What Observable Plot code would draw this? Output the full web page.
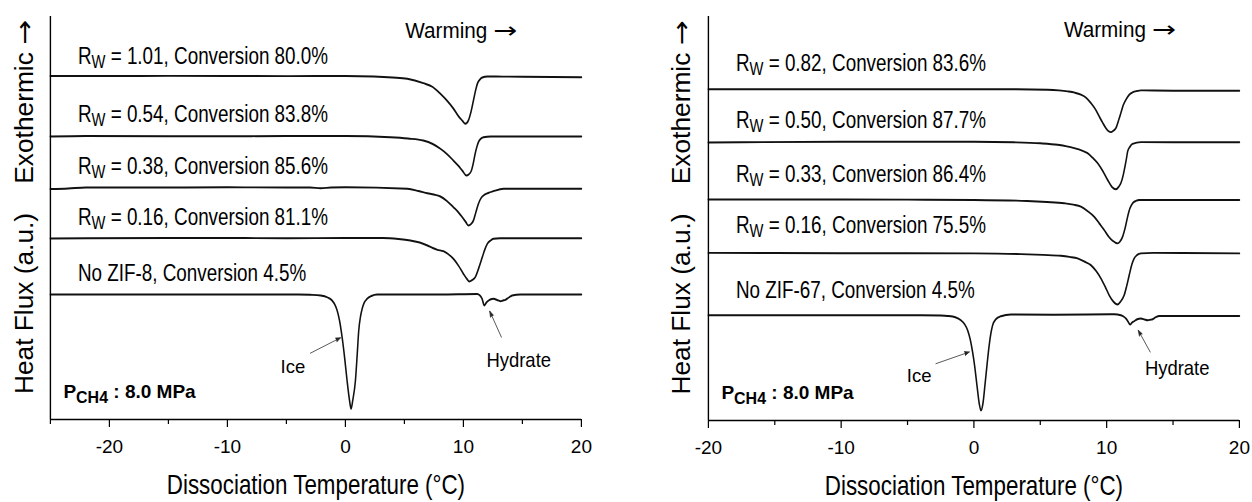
<!DOCTYPE html>
<html>
<head>
<meta charset="utf-8">
<script src="https://cdn.jsdelivr.net/npm/d3@7"></script>
<script src="https://cdn.jsdelivr.net/npm/@observablehq/plot@0.6"></script>
<style>
  body { margin: 0; background: #fff; }
  #fig { display: flex; width: 1252px; height: 502px; overflow: hidden; }
</style>
</head>
<body>
<div id="fig"></div>
<script>
// ---- DSC warming traces (heat flux, a.u.), one stacked trace per sample ----

// ZIF-8 series
const zif8Ratio = [1.01, 0.54, 0.38, 0.16, null];
const zif8Conversion = [80.0, 83.8, 85.6, 81.1, 4.5];
const zif8Offset = [34.3, 28.3, 23.2, 18.15, 12.5];
const zif8LabelY = [35.6, 29.73, 24.57, 19.5, 13.9];
const zif8Traces = [
  [[-25,0.05],[-20,0.05],[-15,0.06],[-10,0.05],[-5,0.04],[0,0.05],[2.4,0],[4,-0.1],[5.25,-0.23],[6.6,-0.67],[7.4,-1.05],[8.05,-1.73],[8.6,-2.4],[9.15,-3.2],[9.6,-4.0],[9.9,-4.4],[10.17,-4.73],[10.42,-4.4],[10.65,-3.5],[10.85,-2.4],[11.05,-1.3],[11.19,-0.7],[11.4,-0.3],[11.6,-0.1],[12.03,0],[15,-0.03],[20,-0.07]],
  [[-25,0],[-22,0.05],[-15,0.03],[-10,0.02],[-5,0.05],[0,0.05],[3.8,-0.07],[5.3,-0.2],[6.6,-0.4],[7.4,-0.75],[8.05,-1.23],[8.6,-1.75],[9.15,-2.4],[9.55,-2.9],[9.9,-3.4],[10.25,-3.9],[10.45,-3.8],[10.68,-3.4],[10.85,-2.6],[11.0,-1.7],[11.15,-1.0],[11.27,-0.57],[11.45,-0.25],[11.7,-0.07],[12.3,0],[20,0]],
  [[-25,-0.15],[-23.5,-0.1],[-22,0],[-15,0],[-10,0.02],[-5,0],[-3,0],[-2.1,-0.08],[-1.2,0],[0,0.02],[5.25,-0.13],[6.2,-0.35],[6.95,-0.57],[7.5,-0.7],[8.05,-0.9],[8.6,-1.35],[9.15,-1.97],[9.55,-2.45],[9.9,-2.97],[10.2,-3.45],[10.42,-3.8],[10.65,-3.65],[10.85,-3.3],[11.05,-2.5],[11.27,-1.63],[11.5,-1.05],[11.7,-0.8],[12.1,-0.55],[12.54,-0.37],[13.4,-0.13],[15,-0.13],[20,-0.13]],
  [[-25,-0.05],[-15,0],[-10,0],[-5,-0.02],[0,0],[3.2,0],[4.5,-0.1],[5.5,-0.25],[6.3,-0.45],[6.95,-0.75],[7.4,-1.0],[7.8,-1.18],[8.3,-1.32],[8.7,-1.6],[9.15,-2.08],[9.6,-2.8],[10.0,-3.58],[10.3,-4.1],[10.5,-4.35],[10.75,-4.2],[11.0,-3.92],[11.3,-3.0],[11.6,-1.92],[11.8,-1.2],[12.03,-0.58],[12.3,-0.25],[12.54,-0.08],[13.1,-0.02],[20,-0.02]],
  [[-25,0],[-15,0],[-8,0],[-4,0],[-3,-0.03],[-2.1,-0.1],[-1.5,-0.3],[-1.13,-0.6],[-0.9,-1.0],[-0.7,-1.6],[-0.5,-2.6],[-0.28,-4.27],[-0.05,-6.5],[0.14,-8.6],[0.35,-10.6],[0.48,-11.43],[0.62,-10.6],[0.85,-8.6],[1.0,-6.0],[1.13,-3.6],[1.28,-2.2],[1.42,-1.43],[1.6,-0.8],[1.84,-0.43],[2.2,-0.15],[2.69,0],[5,0],[8,0],[11.16,0.05],[11.4,-0.1],[11.58,-0.43],[11.78,-1.1],[11.95,-0.8],[12.14,-0.6],[12.4,-0.45],[12.57,-0.43],[12.85,-0.55],[13.14,-0.67],[13.35,-0.6],[13.56,-0.53],[13.85,-0.3],[14.13,-0.1],[14.83,0],[20,0]]
];

// ZIF-67 series
const zif67Ratio = [0.82, 0.50, 0.33, 0.16, null];
const zif67Conversion = [83.6, 87.7, 86.4, 75.5, 4.5];
const zif67Offset = [33.05, 27.8, 22.05, 16.67, 10.5];
const zif67LabelY = [34.83, 29.17, 23.83, 18.67, 12.17];
const zif67Traces = [
  [[-20,0],[-10,0],[0,0],[3,0],[5.55,-0.05],[6.4,-0.12],[7.06,-0.22],[7.6,-0.35],[8.06,-0.55],[8.45,-0.85],[8.81,-1.38],[9.15,-2.0],[9.44,-2.72],[9.7,-3.35],[9.94,-3.88],[10.15,-4.2],[10.32,-4.28],[10.5,-4.15],[10.7,-3.88],[10.9,-3.1],[11.07,-2.38],[11.25,-1.6],[11.45,-1.05],[11.7,-0.55],[11.95,-0.32],[12.3,-0.18],[12.58,-0.12],[15,-0.15],[20,-0.15]],
  [[-20,-0.07],[-10,0],[0,0],[3,-0.05],[5,-0.15],[6.31,-0.3],[7.0,-0.45],[7.56,-0.63],[8.1,-0.85],[8.56,-1.13],[8.95,-1.6],[9.32,-2.13],[9.7,-2.9],[10.07,-3.8],[10.4,-4.5],[10.7,-4.73],[10.9,-4.5],[11.07,-4.13],[11.25,-3.3],[11.38,-2.47],[11.5,-1.6],[11.58,-0.97],[11.75,-0.5],[11.95,-0.2],[12.58,-0.03],[15,-0.05],[20,-0.05]],
  [[-20,0],[-10,0],[-5,-0.02],[0,-0.05],[4,-0.15],[5.5,-0.25],[6.8,-0.38],[7.5,-0.52],[8.06,-0.72],[8.6,-1.2],[9.06,-1.72],[9.45,-2.4],[9.82,-3.05],[10.15,-3.7],[10.45,-4.12],[10.82,-4.38],[11.0,-4.2],[11.2,-3.72],[11.4,-2.8],[11.58,-1.72],[11.75,-0.9],[11.95,-0.38],[12.2,-0.15],[12.45,-0.05],[15,-0.05],[20,-0.05]],
  [[-20,0.05],[-10,0.02],[0,0],[3.54,-0.07],[5.2,-0.15],[6.55,-0.24],[7.2,-0.35],[7.81,-0.5],[8.3,-0.8],[8.81,-1.17],[9.2,-1.75],[9.57,-2.5],[9.9,-3.35],[10.19,-4.17],[10.5,-4.8],[10.82,-5.1],[11.05,-4.8],[11.32,-4.17],[11.5,-3.3],[11.7,-2.17],[11.9,-1.1],[12.07,-0.5],[12.3,-0.15],[12.58,0],[13.5,0.05],[20,0]],
  [[-20,0],[-10,0],[-5,0],[-3.99,0],[-2.5,-0.03],[-1.98,-0.07],[-1.4,-0.2],[-0.98,-0.5],[-0.7,-0.9],[-0.47,-1.5],[-0.28,-2.4],[-0.1,-3.67],[0.05,-5.0],[0.23,-7.0],[0.4,-8.8],[0.53,-9.5],[0.68,-8.8],[0.83,-7.0],[1.0,-4.8],[1.15,-3.0],[1.28,-1.8],[1.41,-1.0],[1.65,-0.4],[2.03,-0.1],[2.79,0.07],[6,0.05],[10.57,0.1],[11.07,0],[11.3,-0.15],[11.45,-0.33],[11.6,-0.6],[11.77,-0.93],[11.9,-0.75],[12.07,-0.6],[12.3,-0.4],[12.58,-0.33],[12.85,-0.42],[13.08,-0.5],[13.3,-0.45],[13.46,-0.4],[13.7,-0.2],[13.96,-0.07],[15,-0.07],[20,-0.07]]
];

const majorTicks = [-20, -10, 0, 10, 20];
const zif8MinorTicks = [-25, -15, -5, 5, 15];
const zif67MinorTicks = [-15, -5, 5, 15];

// ---- drawing ----
const H = 502;
const K = 0.82;           // the figure is drawn horizontally condensed
const FONT = "'Liberation Sans', Arial, Helvetica, sans-serif";

// width factor and size of each kind of text
const textStyle = {
  "tick":        {width: 1.0,  size: 19},
  "curve-label": {width: 0.82, size: 23},
  "warming":     {width: 0.92, size: 22.5},
  "ice":         {width: 1.0,  size: 18.5},
  "hydrate":     {width: 0.9,  size: 20.5},
  "pressure":    {width: 1.0,  size: 19},
  "x-title":     {width: 0.82, size: 27.3},
  "y-title":     {width: 0.95, size: 26.3}
};

function kindOf(txt) {
  if (/^-?\d+$/.test(txt)) return "tick";
  if (txt.startsWith("R_") || txt.startsWith("No ")) return "curve-label";
  if (txt.startsWith("Warming")) return "warming";
  if (txt === "Ice") return "ice";
  if (txt === "Hydrate") return "hydrate";
  if (txt.startsWith("P_")) return "pressure";
  if (txt.startsWith("Heat")) return "y-title";
  if (txt.startsWith("Dissociation")) return "x-title";
  return null;
}

function labelsFor(ratio, conversion, name) {
  return ratio.map((r, i) => r === null
    ? `No ${name}, Conversion ${conversion[i].toFixed(1)}%`
    : `R_W = ${r.toFixed(2)}, Conversion ${conversion[i].toFixed(1)}%`);
}

function panel(cfg) {
  const W = cfg.width / K;
  const [x0] = cfg.xDomain;
  const labels = labelsFor(cfg.ratio, cfg.conversion, cfg.name);
  const rows = cfg.traces.flatMap((tr, i) =>
    tr.map(([T, dq]) => ({sample: labels[i], T, q: cfg.offset[i] + dq})));
  const labelRows = labels.map((text, i) => ({text, y: cfg.labelY[i]}));

  const svg = Plot.plot({
    width: W,
    height: H,
    marginLeft: cfg.axisLeft / K,
    marginRight: (cfg.width - cfg.axisRight) / K,
    marginTop: 16,
    marginBottom: H - cfg.axisBottom,
    style: {fontFamily: FONT, color: "#000", background: "#fff", overflow: "visible"},
    x: {domain: cfg.xDomain, axis: null},
    y: {domain: [0, 40.3], axis: null},
    marks: [
      Plot.line(rows, {x: "T", y: "q", z: "sample", curve: "monotone-x", stroke: "#111", strokeWidth: 1.9}),
      Plot.ruleX([x0], {stroke: "#000", strokeWidth: 1.7}),
      Plot.ruleY([0], {stroke: "#000", strokeWidth: 1.6}),
      Plot.axisX({ticks: cfg.minor, tickSize: 5, tickFormat: () => "", strokeWidth: 1.5, label: null}),
      Plot.axisX({ticks: majorTicks, tickSize: 8, tickPadding: 12, tickFormat: (d) => String(d),
                  fontSize: 19, strokeWidth: 1.5, label: null}),
      Plot.text(labelRows, {x: () => x0, y: "y", text: "text", textAnchor: "start", lineAnchor: "bottom",
                            dx: 27.5 / K, fontSize: 23}),
      Plot.text(["Warming →"], {x: () => cfg.warming[0], y: () => cfg.warming[1], textAnchor: "start",
                                 lineAnchor: "bottom", fontSize: 22.5}),
      Plot.text(["Ice"], {x: () => cfg.ice[0], y: () => cfg.ice[1], textAnchor: "start", lineAnchor: "bottom",
                          fontSize: 18.5}),
      Plot.text(["Hydrate"], {x: () => cfg.hydrate[0], y: () => cfg.hydrate[1], textAnchor: "start",
                              lineAnchor: "bottom", fontSize: 20.5}),
      Plot.arrow(cfg.arrows, {x1: "x1", y1: "y1", x2: "x2", y2: "y2", stroke: "#333", fill: "#111",
                              strokeWidth: 0.9, headLength: 10, headAngle: 40}),
      Plot.text(["P_CH4 : 8.0 MPa"], {frameAnchor: "bottom-left", textAnchor: "start", lineAnchor: "bottom",
                                       dx: 13 / K, dy: -22, fontSize: 19, fontWeight: "bold"}),
      Plot.text(["Heat Flux (a.u.)\u00a0\u00a0\u00a0 Exothermic →"], {frameAnchor: "left", rotate: -90,
                  textAnchor: "middle", lineAnchor: "bottom", dx: -cfg.yLabelGap / K, dy: -11, fontSize: 26.3}),
      Plot.text(["Dissociation Temperature (°C)"], {frameAnchor: "bottom", lineAnchor: "bottom", dy: 74,
                                                     fontSize: 27.3})
    ]
  });

  // condensed width, full height
  svg.setAttribute("width", cfg.width);
  svg.setAttribute("height", H);
  svg.setAttribute("preserveAspectRatio", "none");
  svg.style.width = cfg.width + "px";
  svg.style.height = H + "px";
  svg.style.maxWidth = "none";

  const ns = "http://www.w3.org/2000/svg";
  const tspan = (text, attrs = {}) => {
    const s = document.createElementNS(ns, "tspan");
    s.textContent = text;
    for (const [k, v] of Object.entries(attrs)) s.setAttribute(k, v);
    return s;
  };

  svg.querySelectorAll("text").forEach((t) => {
    if (t.children.length) return;
    const txt = t.textContent;
    const kind = kindOf(txt);
    if (!kind) return;
    const {width, size} = textStyle[kind];
    t.setAttribute("font-size", size);
    t.style.fontSize = size + "px";

    // undo part of the horizontal condensing, about the text anchor
    const u = width / K;
    let tr = t.getAttribute("transform");
    if (!tr) {
      const x = +t.getAttribute("x") || 0, y = +t.getAttribute("y") || 0;
      tr = `translate(${x},${y}) scale(${u},1) translate(${-x},${-y})`;
    } else if (/rotate/.test(tr)) {
      tr = tr.replace("rotate", `scale(${u},1) rotate`);
    } else {
      tr = `${tr} scale(${u},1)`;
    }
    t.setAttribute("transform", tr);

    // subscripts written as X_sub
    const m = txt.match(/^([A-Za-z])_([A-Za-z0-9]+)(.*)$/);
    if (m) {
      const chem = m[2] === "CH4";
      const shift = chem ? 5 : 4;
      t.textContent = "";
      t.append(tspan(m[1]),
               tspan(m[2], {"font-size": (chem ? 0.84 : 0.78) * size, dy: shift}),
               tspan(m[3], {dy: -shift}));
      return;
    }
    // a longer arrow glyph
    const i = txt.indexOf("→");
    if (i >= 0) {
      const rotated = kind === "y-title";
      t.textContent = "";
      t.append(tspan(txt.slice(0, i)),
               tspan("→", {"font-family": "DejaVu Sans", textLength: rotated ? 25 : 24 / width,
                           lengthAdjust: "spacingAndGlyphs"}),
               tspan(txt.slice(i + 1)));
    }
  });
  return svg;
}

const fig = document.getElementById("fig");
fig.append(
  panel({
    name: "ZIF-8", width: 620, axisLeft: 50, axisRight: 581, axisBottom: 419, yLabelGap: 17,
    xDomain: [-25, 20], minor: zif8MinorTicks,
    ratio: zif8Ratio, conversion: zif8Conversion, offset: zif8Offset, labelY: zif8LabelY, traces: zif8Traces,
    warming: [5.08, 38.2], ice: [-5.5, 4.7], hydrate: [11.95, 5.23],
    arrows: [{x1: -2.97, y1: 6.63, x2: -0.42, y2: 8.17}, {x1: 13.22, y1: 8.23, x2: 12.23, y2: 10.83}]
  }),
  panel({
    name: "ZIF-67", width: 632, axisLeft: 88, axisRight: 619, axisBottom: 420, yLabelGap: 18,
    xDomain: [-20, 20], minor: zif67MinorTicks,
    ratio: zif67Ratio, conversion: zif67Conversion, offset: zif67Offset, labelY: zif67LabelY, traces: zif67Traces,
    warming: [6.78, 38.3], ice: [-5.05, 3.83], hydrate: [12.88, 4.5],
    arrows: [{x1: -2.86, y1: 5.67, x2: -0.35, y2: 6.83}, {x1: 13.28, y1: 6.83, x2: 12.38, y2: 9.0}]
  })
);
</script>
</body>
</html>
